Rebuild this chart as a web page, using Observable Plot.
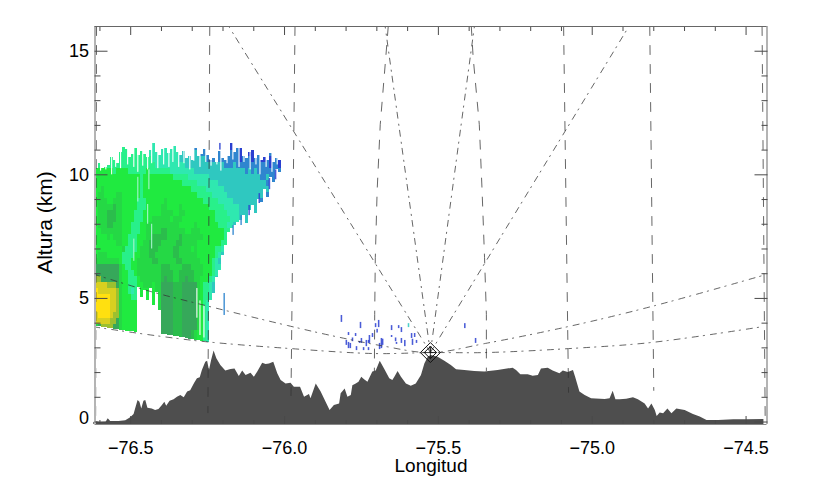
<!DOCTYPE html>
<html><head><meta charset="utf-8">
<style>html,body{margin:0;padding:0;background:#fff}svg{display:block}</style>
<script src="https://cdn.jsdelivr.net/npm/d3@7"></script>
<script src="https://cdn.jsdelivr.net/npm/@observablehq/plot@0.6"></script>
</head><body><script>
const terrainLon=[-76.62,-76.61,-76.60,-76.58,-76.573,-76.565,-76.538,-76.516,-76.50,-76.489,-76.484,-76.476,-76.470,-76.464,-76.457,-76.451,-76.444,-76.43,-76.419,-76.408,-76.397,-76.389,-76.383,-76.372,-76.359,-76.348,-76.337,-76.326,-76.315,-76.305,-76.292,-76.283,-76.274,-76.267,-76.256,-76.250,-76.244,-76.237,-76.229,-76.220,-76.207,-76.191,-76.174,-76.161,-76.147,-76.136,-76.125,-76.109,-76.098,-76.087,-76.071,-76.060,-76.049,-76.035,-76.022,-76.011,-75.995,-75.979,-75.968,-75.948,-75.935,-75.919,-75.914,-75.897,-75.881,-75.865,-75.852,-75.838,-75.821,-75.816,-75.803,-75.794,-75.783,-75.778,-75.767,-75.758,-75.749,-75.740,-75.729,-75.713,-75.702,-75.689,-75.675,-75.658,-75.648,-75.640,-75.631,-75.620,-75.604,-75.588,-75.572,-75.555,-75.544,-75.533,-75.523,-75.501,-75.479,-75.458,-75.441,-75.414,-75.382,-75.349,-75.306,-75.257,-75.246,-75.232,-75.208,-75.192,-75.175,-75.165,-75.143,-75.127,-75.105,-75.094,-75.078,-75.061,-75.054,-75.040,-75.023,-75.002,-74.958,-74.942,-74.932,-74.923,-74.909,-74.888,-74.866,-74.850,-74.828,-74.817,-74.806,-74.795,-74.789,-74.779,-74.768,-74.754,-74.741,-74.725,-74.698,-74.671,-74.649,-74.627,-74.589,-74.540,-74.497,-74.442];
const terrainKm=[-0.02,0.01,-0.02,-0.01,0.13,0.02,0.02,0.05,0.17,0.30,0.53,0.87,0.80,0.53,0.84,0.87,0.56,0.53,0.47,0.51,0.67,0.80,0.64,0.84,0.90,1.0,1.07,0.98,1.21,1.27,1.57,1.75,1.79,2.08,2.42,2.46,2.08,2.49,2.87,2.56,2.29,2.06,2.12,2.15,1.84,2.06,1.88,1.97,1.81,2.02,2.38,2.33,2.35,2.42,1.95,1.68,1.54,1.57,1.41,1.41,1.0,1.11,0.94,1.54,1.21,0.80,0.47,0.67,0.73,1.14,1.34,1.0,1.07,1.47,1.54,1.61,1.81,1.71,1.61,2.02,2.06,2.46,2.15,1.75,1.68,1.84,2.04,1.81,1.54,1.45,1.54,1.88,2.35,2.62,2.69,2.62,2.46,2.29,2.11,2.08,2.04,2.02,2.08,2.18,2.08,1.91,1.91,1.85,1.88,2.15,2.18,2.06,1.95,2.06,2.0,2.08,1.81,1.21,1.07,0.94,0.91,0.94,1.25,0.90,0.90,0.92,0.98,0.90,0.73,0.53,0.73,0.47,0.22,0.37,0.33,0.53,0.33,0.53,0.47,0.30,0.20,0.06,0.06,0.09,0.09,0.10];

const upperLon=[-76.62,-76.435,-76.256,-75.989,-75.849,-75.686,-75.526,-75.347,-75.064,-74.796,-74.445];
const upperKm=[5.98,5.28,4.71,3.90,3.50,3.09,2.81,3.18,3.90,4.71,5.93];
const lowerLon=[-76.62,-76.295,-75.979,-75.708,-75.526,-75.347,-75.077,-74.806,-74.445];
const lowerKm=[3.85,3.30,2.97,2.77,2.81,2.81,2.97,3.22,3.86];
const radarLon=[-75.526], radarKm=[2.81];
const radialTopLon=[-76.181,-75.673,-75.383,-74.881];
const sweepTopLon=[-76.611,-76.243,-75.966,-75.093,-74.813,-74.448];
const sweepBotLon=[-76.614,-76.249,-75.979,-75.077,-74.800,-74.438];
const sweepBotKm=[-0.1,0.38,1.07,1.2,1.28,0.26];
const bentWestLon=[-75.663,-75.671,-75.689,-75.699,-75.705,-75.707,-75.708];
const bentEastLon=[-75.393,-75.387,-75.367,-75.358,-75.350,-75.344,-75.344];
const bentKm=[16,14.75,12.03,9.37,6.65,4.35,2.08];

const speckLon=[-75.816,-75.754,-75.793,-75.793,-75.787,-75.770,-75.757,-75.751,-75.728,-75.725,-75.715,-75.767,-75.744,-75.728,-75.695,-75.705,-75.692,-75.686,-75.653,-75.630,-75.621,-75.653,-75.637,-75.621,-75.598,-75.588,-75.572,-75.578,-75.415,-75.380,-76.197,-76.211,-75.800,-75.780,-75.735,-75.700,-75.682,-75.640,-75.610,-75.585,-76.083,-76.116,-76.142,-76.168,-76.050,-76.030];
const speckLow=[4.03,3.78,3.50,2.97,2.97,3.46,3.18,3.18,3.18,3.18,3.42,2.89,2.89,2.89,3.82,3.82,2.93,2.97,3.70,3.78,3.62,3.42,3.14,3.18,3.82,3.38,3.18,3.42,3.78,3.18,4.31,11.0,3.10,3.25,3.05,3.60,3.10,3.25,3.05,3.10,8.84,8.35,7.95,7.55,9.40,9.80];
const speckHigh=[4.31,4.03,3.62,3.22,3.18,3.58,3.26,3.38,3.30,3.50,3.58,3.05,3.01,3.01,4.11,3.98,3.18,3.38,3.90,3.90,3.82,3.50,3.22,3.38,3.98,3.58,3.30,3.58,3.98,3.38,5.20,11.27,3.30,3.40,3.30,3.75,3.35,3.40,3.30,3.35,9.24,8.76,8.35,7.95,9.85,10.2];
const speckKind=["a","a","a","a","a","a","a","a","a","a","a","a","a","a","a","a","a","a","a","a","a","a","a","a","c","a","a","a","a","a","b","a","a","a","a","a","a","a","a","a","a","a","b","b","a","a"];

const cellLon0=-76.614, cellLonStep=0.00977, cellKm0=11.47, cellKmStep=0.2427;
const colTop=[10.25,10.46,10.25,10.30,10.38,10.70,10.58,10.46,10.90,11.10,11.02,10.70,10.82,11.06,10.78,10.94,10.82,10.70,10.98,11.27,10.90,10.78,11.02,11.06,10.86,11.02,11.14,10.90,10.78,10.94,10.66,10.74,10.58,11.06,10.74,10.82,11.02,10.78,10.58,10.66,10.50,10.94,10.66,10.58,10.74,11.27,10.90,11.06,11.06,10.74,10.66,10.90,10.98,10.66,10.78,10.58,10.70,10.58,10.86,10.50,10.66,10.58];
const colBottom=[3.86,3.86,3.82,3.82,3.78,3.78,3.74,3.74,3.70,3.70,3.66,3.66,3.66,3.62,5.44,5.04,5.32,4.91,5.40,4.71,5.24,4.51,3.54,3.54,3.50,3.50,3.46,3.46,3.42,3.42,3.38,3.34,3.34,3.30,3.30,3.26,3.26,3.22,4.91,5.20,5.85,6.13,6.74,7.14,7.67,7.83,7.95,8.07,8.15,8.35,8.05,8.55,8.75,8.45,9.0,8.9,9.4,9.1,9.9,9.7,10.2,10.1];
const cellRows=[
"eeeeeeeeeeeeeeeeeeddddddddddcccccbbbbbbbaabbaaaabbaaaaaaaaaaaa",
"eeeeeeeeeeeeeeeeeeddddddddddcccccbbbbbbbbabbaabbaaaaaaaaaaaaaa",
"eeeeeeeeeeeeeeeeeeddddddddddcccccccbbbbbbbbbabbbaabaaabaaabaaa",
"eeeeeeeeeeeeeeeeeeedddddddddcccccccccbbbbbbbbbbbabbbabbaabaaba",
"feeeeeeeeeeeeeeeeeeeddddddddddcccccccccccccbbbcbbbbbbbbbbbabba",
"ffffffeffffeeeeeefeeeeeeeddddddddcccccccccccccccccbcbcbbbbbbbb",
"fffffffffffffffeffffffffffeeeeedddddddcccccccccccccccccbbcbbbb",
"fffffffffffffffefffffffffffffeeeeedddddddccccccccccccccccbbbbb",
"ffgffffffffffffeffffffffffffffffeeeeeddddddcccccccccccccccbbbb",
"fggffffggffffffeffffffffffffffffffeeeeedddddcccccccccccccbbbbb",
"fgggffgggfffffeeeffffffgffffffffffffeeeeedddddcccccccccbbbbbbb",
"fggggghggfffffeeefffffggffffgfffffffffeeeeedddddcccccccbbbbbbb",
"fggghhhggffffeeeffffffggggffggffffffffffeeeeddddcccccccbbbbbbb",
"fggghhhggffffeeefffggggggfgggfffffffffffeeeeedddcccccccbbbbbbb",
"fggghhgggfffeeeffgggggggggggfffffgfffffffeeeddcccccccccccccccc",
"ffgggggggfffeeeffggggghhggggggffgggffffffffeedddcccccccccccccc",
"ffffgfgggffeeefffgghhhhhgggghgggggggfffffffeeddccccccccccccccc",
"fffffffggffeeeffgghhhhggggghhgggggffffffffeedddccccccccccccccc",
"fffffffffgeeeefggghhhggggghhggggfgffffffeeddcccccccccccccccccc",
"fgggfffffeeeeffggghhgggggghhggggggffffffedcccccccccccccccccccc",
"ggggggggfeeeffggggghhgggggghhggggggffffedccccccccccccccccccccc",
"iiiiiiiigfeeffgggggggghhhgggghhhggggfffeddcccccccccccccccccccc",
"iiiiiiiigffeefgggggggghhhhgghhhhhgggfffedccccccccccccccccccccc",
"jjiiiiiigffeeefggggggghihhgghhihhggfffedcccccccccccccccccccccc",
"kkkkjjjigffeeeffgggfggiiiihhhiiiiigfeedccccccccccccccccccccccc",
"lkkkkkkjgffedeefffffggiiiihhhiiiiigfeedccccccccccccccccccccccc",
"lllllkkjgfffeeefffffggiiiihhhiiiiigfeedccccccccccccccccccccccc",
"lllllkkjgfffffffffffggiiiihhhiiiiigfeddccccccccccccccccccccccc",
"lllllkkjgfffffffffffggiiiihhhiiiiigfeddccccccccccccccccccccccc",
"kllllkjjgfffffffffffggiiiihhhiiiiigfeddccccccccccccccccccccccc",
"kkkkkjjigfffffffffffggiiiihhhiiiiigfeddccccccccccccccccccccccc",
"gijjjjiigfffffffffffggiiiihhhiiiiigfeddccccccccccccccccccccccc",
"ggggggggfffffffffffffgiiiihhhiiihgffeddccccccccccccccccccccccc",
"ggggggggfffffffffffffgiiiihhhiiihgffeddccccccccccccccccccccccc"
];
const dbzKinds=["a","b","c","d","e","f","g","h","i","j","k","l","p","w"];
const dbzColors=["#2a3fd0","#2f86cf","#2fc8c0","#2fe8b0","#28f08a","#20ea40","#25d845","#2bbd4c","#36a85a","#9cc030","#d8d020","#ffe010","#a8f5d0","#ffffff"];

const streakLon=[-76.598,-76.581,-76.562,-76.549,-76.533,-76.510,-76.490,-76.477,-76.461,-76.445,-76.432,-76.412,-76.393,-76.376,-76.363,-76.344,-76.327,-76.308,-76.295,-76.275,-76.256,-76.239,-76.220,-76.207,-76.187,-76.168,-76.148,-76.132,-76.112,-76.093,-76.080,-76.060,-76.041,-76.024];
const streakLow=[10.15,10.2,10.0,10.3,10.25,10.4,10.3,10.1,10.35,10.2,10.45,10.25,10.4,10.3,10.5,10.3,10.45,10.2,10.55,10.3,10.5,10.35,10.4,10.15,10.45,10.6,10.3,10.5,10.2,10.4,10.0,10.3,10.1,10.4];
const paleLon=[-76.477,-76.445,-76.490,-76.432,-76.441,-76.275,-76.262,-76.285];
const paleLow=[8.9,8.0,6.5,7.0,9.4,3.5,3.4,4.2];
const paleHigh=[9.9,8.8,7.4,8.0,10.2,4.9,4.7,5.4];
const paleKind=["p","p","p","p","p","w","w","w"];

const xDomain=[-76.616,-74.432], yDomain=[-0.1,16];
const xMajor=[-76.5,-76,-75.5,-75,-74.5];
const xMinor=[-76.6,-76.4,-76.3,-76.2,-76.1,-75.9,-75.8,-75.7,-75.6,-75.4,-75.3,-75.2,-75.1,-74.9,-74.8,-74.7,-74.6];
const yMajor=[0,5,10,15];
const yMinor=[1,2,3,4,6,7,8,9,11,12,13,14];

const terrain=terrainLon.map((x,i)=>({x,y:terrainKm[i]}));
const upper=upperLon.map((x,i)=>({x,y:upperKm[i]}));
const lower=lowerLon.map((x,i)=>({x,y:lowerKm[i]}));
const cells=[];
cellRows.forEach((row,r)=>{
  const hi=cellKm0-r*cellKmStep, lo=hi-cellKmStep;
  colTop.forEach((t,c)=>{
    const y2=Math.min(hi,t), y1=Math.max(lo,colBottom[c]);
    if(y2>y1&&row[c]) cells.push({x1:cellLon0+c*cellLonStep,x2:cellLon0+(c+1)*cellLonStep,y1,y2,k:row[c]});
  });
});
const specks=speckLon.map((x,i)=>({x,y1:speckLow[i],y2:speckHigh[i],k:speckKind[i]}));
const streaks=[...streakLon.map((x,i)=>({x,y1:streakLow[i],y2:11.5,k:"w"})),...paleLon.map((x,i)=>({x,y1:paleLow[i],y2:paleHigh[i],k:paleKind[i]}))];
const radials=radialTopLon.map(t=>[{x:radarLon[0],y:radarKm[0]},{x:t,y:16}]);
const sweeps=[...sweepTopLon.map((t,i)=>[{x:t,y:16},{x:sweepBotLon[i],y:sweepBotKm[i]}]),
  bentWestLon.map((x,i)=>({x,y:bentKm[i]})),bentEastLon.map((x,i)=>({x,y:bentKm[i]}))];
const radar=[{x:radarLon[0],y:radarKm[0]}];

const dashDot="6 5 1.2 6", dashed="9 10", ink="#333", frame="#b4b4b4", tick="#4a4a4a";
const chart=Plot.plot({
  width:840,height:490,marginLeft:94.5,marginRight:73.5,marginTop:26,marginBottom:66,
  style:{fontFamily:"'Liberation Sans',Arial,sans-serif",background:"#fff",color:"#000",overflow:"visible"},
  x:{domain:xDomain,label:null},
  y:{domain:yDomain,label:null},
  color:{domain:dbzKinds,range:dbzColors},
  marks:[
    Plot.rect(cells,{x1:"x1",x2:"x2",y1:"y1",y2:"y2",fill:"k",shapeRendering:"crispEdges"}),
    Plot.rect(streaks,{x1:d=>d.x,x2:d=>d.x+0.0035,y1:"y1",y2:"y2",fill:"k"}),
    Plot.rect(specks,{x1:d=>d.x,x2:d=>d.x+0.005,y1:"y1",y2:"y2",fill:"k",fillOpacity:0.85}),
    Plot.areaY(terrain,{x:"x",y1:()=>-0.1,y2:"y",fill:"#4e4e4e"}),
    ...sweeps.map(s=>Plot.line(s,{x:"x",y:"y",stroke:ink,strokeWidth:0.75,strokeDasharray:dashed})),
    ...radials.map(s=>Plot.line(s,{x:"x",y:"y",stroke:ink,strokeWidth:0.75,strokeDasharray:dashDot})),
    Plot.line(upper,{x:"x",y:"y",curve:"catmull-rom",stroke:ink,strokeWidth:0.75,strokeDasharray:dashDot,clip:true}),
    Plot.line(lower,{x:"x",y:"y",curve:"catmull-rom",stroke:ink,strokeWidth:0.75,strokeDasharray:dashDot,clip:true}),
    Plot.dot(radar,{x:"x",y:"y",symbol:"diamond2",r:9,stroke:"#111",strokeWidth:1,fill:"none"}),
    Plot.dot(radar,{x:"x",y:"y",symbol:"diamond2",r:5.5,stroke:"#111",strokeWidth:1,fill:"none"}),
    Plot.dot(radar,{x:"x",y:"y",symbol:"plus",r:4,stroke:"#111",strokeWidth:0.8,fill:"none"}),
    Plot.ruleX([xDomain[0]],{stroke:frame,strokeWidth:2}),
    Plot.ruleX([xDomain[1]],{stroke:frame,strokeWidth:2}),
    Plot.ruleY([yDomain[1]],{stroke:"#666",strokeWidth:1}),
    Plot.ruleY([yDomain[0]],{stroke:"#888",strokeWidth:1}),
    Plot.axisX({anchor:"top",ticks:xMajor,tickSize:-8,text:null,label:null,stroke:tick}),
    Plot.axisX({anchor:"top",ticks:xMinor,tickSize:-4,text:null,label:null,stroke:tick}),
    Plot.axisX({anchor:"bottom",ticks:xMajor,tickSize:-8,text:null,label:null,stroke:tick}),
    Plot.axisX({anchor:"bottom",ticks:xMinor,tickSize:-4,text:null,label:null,stroke:tick}),
    Plot.axisY({anchor:"left",ticks:yMajor,tickSize:-13,text:null,label:null,stroke:tick}),
    Plot.axisY({anchor:"left",ticks:yMinor,tickSize:-6,text:null,label:null,stroke:tick}),
    Plot.axisY({anchor:"right",ticks:yMajor,tickSize:-13,text:null,label:null,stroke:tick}),
    Plot.axisY({anchor:"right",ticks:yMinor,tickSize:-6,text:null,label:null,stroke:tick}),
    Plot.axisX({anchor:"bottom",ticks:xMajor,tickSize:0,tickPadding:17,tickFormat:d3.format(".1f"),fontSize:18,label:null,fill:"#000"}),
    Plot.axisY({anchor:"left",ticks:[5,10,15],tickSize:0,tickPadding:6,fontSize:18,label:null,fill:"#000"}),
    Plot.axisY({anchor:"left",ticks:[0],tickSize:0,tickPadding:6,fontSize:18,label:null,fill:"#000",dy:-4}),
    Plot.text(["Longitud"],{frameAnchor:"bottom",dy:47,text:d=>d,fontSize:19,fill:"#000",lineAnchor:"bottom"}),
    Plot.text(["Altura (km)"],{frameAnchor:"left",dx:-50,dy:-3,rotate:-90,textAnchor:"middle",text:d=>d,fontSize:21,fill:"#000"})
  ]
});
document.body.appendChild(chart);
</script></body></html>
